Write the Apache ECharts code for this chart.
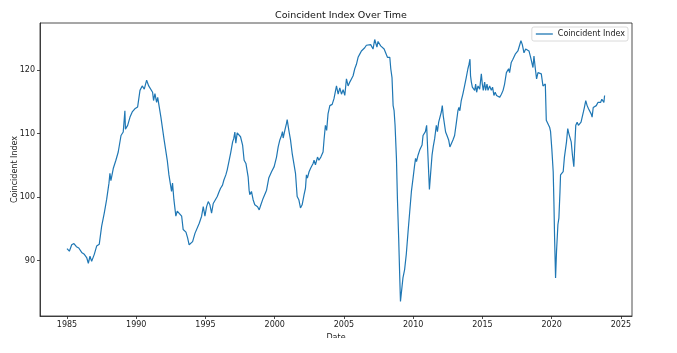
<!DOCTYPE html>
<html>
<head>
<meta charset="utf-8">
<script src="https://cdn.jsdelivr.net/npm/echarts@6/dist/echarts.min.js"></script>
<style>
  html, body { margin: 0; padding: 0; background: #fff; }
  #chart { width: 677px; height: 353px; }
</style>
</head>
<body>
<div id="chart"></div>
<script>
// dates as decimal years
const dates = [
  1985.00, 1985.17, 1985.34, 1985.50, 1985.68, 1985.85, 1986.06, 1986.25, 1986.42, 1986.54,
  1986.66, 1986.78, 1986.97, 1987.14, 1987.33, 1987.50, 1987.69, 1987.86, 1988.03, 1988.10,
  1988.17, 1988.34, 1988.53, 1988.70, 1988.90, 1989.06, 1989.18, 1989.22, 1989.38, 1989.55,
  1989.71, 1989.90, 1990.10, 1990.27, 1990.43, 1990.58, 1990.75, 1990.90, 1991.02, 1991.18,
  1991.25, 1991.35, 1991.47, 1991.55, 1991.66, 1991.78, 1991.90, 1992.00, 1992.08, 1992.24,
  1992.36, 1992.48, 1992.55, 1992.62, 1992.72, 1992.86, 1992.96, 1993.10, 1993.28, 1993.39,
  1993.59, 1993.71, 1993.82, 1993.92, 1994.07, 1994.24, 1994.36, 1994.55, 1994.72, 1994.84,
  1994.96, 1995.08, 1995.20, 1995.32, 1995.44, 1995.56, 1995.68, 1995.85, 1995.99, 1996.09,
  1996.23, 1996.33, 1996.47, 1996.57, 1996.71, 1996.83, 1996.96, 1997.04, 1997.12, 1997.19,
  1997.29, 1997.43, 1997.53, 1997.68, 1997.79, 1997.92, 1998.08, 1998.15, 1998.20, 1998.32,
  1998.44, 1998.56, 1998.64, 1998.76, 1998.88, 1999.00, 1999.16, 1999.28, 1999.41, 1999.57,
  1999.77, 1999.96, 2000.13, 2000.25, 2000.37, 2000.49, 2000.56, 2000.61, 2000.73, 2000.85,
  2000.90, 2001.02, 2001.14, 2001.26, 2001.38, 2001.50, 2001.62, 2001.74, 2001.86, 2001.98,
  2002.12, 2002.22, 2002.29, 2002.36, 2002.48, 2002.60, 2002.77, 2002.84, 2002.94, 2003.09,
  2003.19, 2003.33, 2003.49, 2003.56, 2003.66, 2003.75, 2003.85, 2003.98, 2004.15, 2004.28,
  2004.34, 2004.46, 2004.58, 2004.70, 2004.82, 2004.94, 2005.06, 2005.18, 2005.30, 2005.42,
  2005.54, 2005.66, 2005.78, 2005.90, 2006.02, 2006.14, 2006.26, 2006.50, 2006.62, 2006.74,
  2006.93, 2007.10, 2007.22, 2007.29, 2007.38, 2007.46, 2007.58, 2007.65, 2007.78, 2007.90,
  2008.02, 2008.14, 2008.24, 2008.31, 2008.38, 2008.47, 2008.55, 2008.62, 2008.69, 2008.79,
  2008.86, 2008.95, 2009.03, 2009.08, 2009.15, 2009.26, 2009.38, 2009.50, 2009.63, 2009.75,
  2009.87, 2009.99, 2010.10, 2010.17, 2010.24, 2010.35, 2010.47, 2010.55, 2010.64, 2010.71,
  2010.78, 2010.88, 2010.97, 2011.08, 2011.17, 2011.25, 2011.36, 2011.45, 2011.55, 2011.67,
  2011.75, 2011.84, 2011.93, 2012.03, 2012.10, 2012.17, 2012.25, 2012.34, 2012.44, 2012.56,
  2012.65, 2012.75, 2012.87, 2012.99, 2013.11, 2013.23, 2013.30, 2013.37, 2013.47, 2013.59,
  2013.71, 2013.83, 2013.90, 2013.95, 2014.02, 2014.10, 2014.14, 2014.20, 2014.27, 2014.37,
  2014.44, 2014.51, 2014.58, 2014.68, 2014.80, 2014.92, 2014.99, 2015.06, 2015.16, 2015.23,
  2015.33, 2015.40, 2015.52, 2015.64, 2015.73, 2015.83, 2015.92, 2016.02, 2016.12, 2016.24,
  2016.37, 2016.49, 2016.60, 2016.73, 2016.80, 2016.89, 2016.96, 2017.08, 2017.20, 2017.27,
  2017.37, 2017.46, 2017.56, 2017.66, 2017.78, 2017.88, 2018.00, 2018.12, 2018.24, 2018.36,
  2018.48, 2018.58, 2018.65, 2018.72, 2018.82, 2018.91, 2019.01, 2019.13, 2019.25, 2019.37,
  2019.44, 2019.54, 2019.61, 2019.73, 2019.85, 2019.92, 2020.01, 2020.11, 2020.16, 2020.21,
  2020.28, 2020.35, 2020.45, 2020.52, 2020.60, 2020.64, 2020.74, 2020.83, 2020.92, 2021.00,
  2021.07, 2021.16, 2021.24, 2021.31, 2021.41, 2021.50, 2021.60, 2021.67, 2021.74, 2021.84,
  2021.93, 2022.03, 2022.12, 2022.22, 2022.29, 2022.36, 2022.46, 2022.56, 2022.66, 2022.75,
  2022.85, 2022.92, 2023.00, 2023.10, 2023.22, 2023.34, 2023.43, 2023.53, 2023.62, 2023.72,
  2023.77, 2023.82
]

const values = [
  91.9, 91.5, 92.5, 92.7, 92.2, 92.0, 91.3, 91.0, 90.5, 89.6,
  90.7, 89.9, 91.0, 92.3, 92.6, 95.4, 97.5, 99.6, 102.2, 103.75,
  102.6, 104.5, 105.8, 107.1, 109.7, 110.25, 113.6, 110.7, 111.3, 112.6,
  113.4, 113.9, 114.2, 116.8, 117.5, 117.0, 118.4, 117.5, 117.5, 116.5,
  115.2, 116.3, 114.9, 115.7, 114.2, 112.6, 112.3, 109.2, 109.0, 105.8,
  103.5, 103.2, 100.9, 102.2, 99.6, 97.0, 97.8, 97.9, 97.0, 94.9,
  94.5, 93.6, 92.5, 92.3, 93.0, 94.3, 94.4, 95.9, 97.0, 98.5,
  97.0, 98.5, 99.3, 98.8, 97.5, 99.0, 98.8, 100.1, 100.9, 101.4,
  101.9, 102.7, 103.5, 104.3, 105.8, 107.1, 108.7, 109.2, 110.25, 108.5,
  110.1, 109.8, 109.5, 108.2, 105.8, 105.3, 103.2, 101.1, 100.4, 100.9,
  99.6, 98.8, 99.0, 98.5, 98.0, 98.8, 99.8, 100.1, 101.1, 103.0,
  104.0, 104.8, 106.3, 107.9, 109.0, 109.7, 110.3, 109.3, 110.5, 111.6,
  112.2, 110.5, 109.0, 106.9, 105.3, 103.75, 100.1, 99.6, 98.3, 98.8,
  100.4, 101.4, 103.5, 103.0, 104.0, 104.6, 105.3, 105.8, 105.1, 106.3,
  105.8, 106.3, 107.1, 109.0, 111.3, 110.5, 113.1, 114.4, 114.6, 115.5,
  115.7, 117.5, 116.2, 117.2, 116.2, 116.9, 116.0, 118.6, 117.5, 118.1,
  118.6, 119.1, 120.2, 120.9, 122.0, 122.5, 123.0, 123.5, 123.9, 123.8,
  124.0, 123.3, 124.8, 125.0, 123.6, 124.5, 124.8, 123.8, 124.0, 123.3,
  123.6, 122.0, 121.7, 122.0, 120.2, 118.8, 114.4, 113.6, 111.3, 106.1,
  99.8, 93.6, 87.3, 83.6, 83.9, 87.3, 88.6, 91.0, 94.6, 97.75,
  100.9, 103.0, 105.0, 106.1, 105.6, 106.6, 107.4, 107.6, 108.2, 109.7,
  110.0, 110.3, 111.3, 111.3, 101.2, 103.5, 106.6, 108.0, 109.2, 111.3,
  110.3, 111.8, 112.1, 113.4, 114.4, 112.8, 112.6, 110.25, 109.7, 109.0,
  107.9, 107.8, 109.0, 109.7, 111.6, 113.6, 114.1, 113.6, 115.2, 116.25,
  117.5, 118.8, 118.6, 120.2, 120.8, 121.7, 119.1, 118.1, 117.3, 117.5,
  116.8, 117.8, 116.5, 117.5, 117.0, 119.4, 117.8, 116.8, 118.1, 116.8,
  117.8, 116.8, 117.5, 116.8, 117.3, 116.0, 116.5, 116.0, 116.2, 115.7,
  116.2, 116.8, 117.8, 119.6, 119.4, 120.2, 119.6, 121.2, 121.7, 121.5,
  122.5, 122.2, 123.0, 122.7, 124.6, 124.0, 122.7, 123.3, 123.5, 123.0,
  122.0, 122.2, 120.4, 122.2, 120.2, 118.6, 119.6, 119.9, 119.4, 117.5,
  117.3, 117.8, 112.1, 111.8, 111.0, 110.3, 107.6, 104.0, 99.3, 93.6,
  87.3, 91.5, 95.7, 96.7, 100.9, 103.5, 103.7, 104.0, 106.3, 106.1,
  108.7, 110.8, 110.0, 110.3, 108.7, 106.6, 104.8, 108.2, 111.3, 111.8,
  111.3, 111.6, 111.8, 112.1, 113.4, 114.1, 115.2, 114.4, 113.9, 113.6,
  113.1, 112.6, 114.1, 114.4, 114.4, 114.9, 115.2, 114.9, 115.4, 115.7,
  114.9, 116.0
]

const xTicks = [1985, 1990, 1995, 2000, 2005, 2010, 2015, 2020, 2025]
const yTicks = [90, 100, 110, 120]

const FONT = 'DejaVu Sans'
const chart = echarts.init(document.getElementById('chart'), null, { renderer: 'canvas' })

const axisCommon = {
  axisLine: { show: true, onZero: false, lineStyle: { color: '#222', width: 0.8 } },
  axisTick: { show: true, length: 3, lineStyle: { color: '#222', width: 0.8 } },
  axisLabel: { color: '#222', fontFamily: FONT, fontSize: 8, margin: 5 },
  splitLine: { show: false },
  nameTextStyle: { color: '#222', fontFamily: FONT, fontSize: 8 }
}

chart.setOption({
  animation: false,
  backgroundColor: '#fff',
  title: {
    text: 'Coincident Index Over Time',
    left: 336,
    textAlign: 'center',
    top: 6,
    textStyle: { color: '#111', fontFamily: FONT, fontSize: 9.5, fontWeight: 'normal' }
  },
  legend: {
    data: ['Coincident Index'],
    right: 49,
    top: 27,
    icon: 'rect',
    itemWidth: 17,
    itemHeight: 1.3,
    itemGap: 5,
    padding: [3, 3, 3, 4],
    borderColor: '#d0d0d0',
    borderWidth: 0.8,
    borderRadius: 2,
    backgroundColor: 'rgba(255,255,255,0.8)',
    textStyle: { color: '#222', fontFamily: FONT, fontSize: 8 }
  },
  grid: {
    left: 40, right: 45, top: 23, bottom: 37,
    outerBoundsMode: 'none',
    containLabel: false,
    show: true, borderColor: '#222', borderWidth: 0.8
  },
  xAxis: Object.assign({}, axisCommon, {
    type: 'value',
    min: 1983.05,
    max: 2025.8,
    name: 'Date',
    nameLocation: 'middle',
    nameGap: 15,
    axisTick: Object.assign({}, axisCommon.axisTick, { customValues: xTicks }),
    axisLabel: Object.assign({}, axisCommon.axisLabel, { customValues: xTicks, formatter: v => String(v) })
  }),
  yAxis: Object.assign({}, axisCommon, {
    type: 'value',
    min: 81.3,
    max: 127.4,
    name: 'Coincident Index',
    nameLocation: 'middle',
    nameGap: 21,
    nameMoveOverlap: false,
    nameRotate: 90,
    axisTick: Object.assign({}, axisCommon.axisTick, { customValues: yTicks }),
    axisLabel: Object.assign({}, axisCommon.axisLabel, { customValues: yTicks })
  }),
  series: [{
    name: 'Coincident Index',
    type: 'line',
    data: dates.map((d, i) => [d, values[i]]),
    showSymbol: false,
    symbol: 'none',
    lineStyle: { color: '#1f77b4', width: 1.2 },
    itemStyle: { color: '#1f77b4' }
  }],
  graphic: [{
    type: 'rect',
    left: 0,
    top: 338,
    shape: { width: 677, height: 15 },
    style: { fill: '#fff' },
    z: 100
  }]
})
</script>
</body>
</html>
